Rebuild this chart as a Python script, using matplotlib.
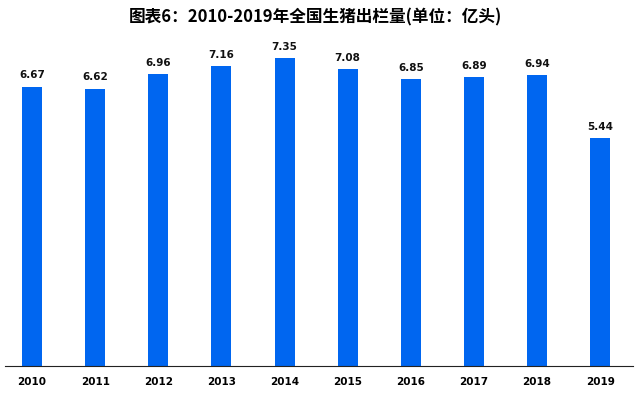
import matplotlib
matplotlib.use("Agg")
import matplotlib.pyplot as plt

years = ["2010", "2011", "2012", "2013", "2014", "2015", "2016", "2017", "2018", "2019"]
values = [6.67, 6.62, 6.96, 7.16, 7.35, 7.08, 6.85, 6.89, 6.94, 5.44]

plt.rcParams['font.family'] = ['Noto Sans CJK SC', 'DejaVu Sans']

W, H = 638, 398
fig = plt.figure(figsize=(W/100, H/100), dpi=100)
ax = fig.add_axes([5/W, 1-366/H, 628/W, 326/H])

x = list(range(len(years)))
ax.bar(x, values, width=0.317, color='#0066F0', zorder=2)
for xi, v in zip(x, values):
    ax.text(xi, v + 0.15, f"{v:.2f}", ha='center', va='bottom', fontsize=7.5,
            fontweight='bold', family=['DejaVu Sans'], color='#111111')

ax.set_xlim(-0.428, 9.52)
ax.set_ylim(0, 326/41.9)
ax.set_xticks(x)
ax.set_xticklabels(years, fontsize=7.5, fontweight='bold', family=['DejaVu Sans'])
ax.tick_params(axis='x', length=0, pad=8)
ax.set_yticks([])
for s in ['top', 'right', 'left']:
    ax.spines[s].set_visible(False)
ax.spines['bottom'].set_color('#222222')
ax.spines['bottom'].set_linewidth(0.8)

fig.text(315/W, 1-17/H, "图表6：2010-2019年全国生猪出栏量(单位：亿头)", ha='center', va='center',
         fontsize=12, fontweight='bold')

fig.savefig("out.png", dpi=100)
